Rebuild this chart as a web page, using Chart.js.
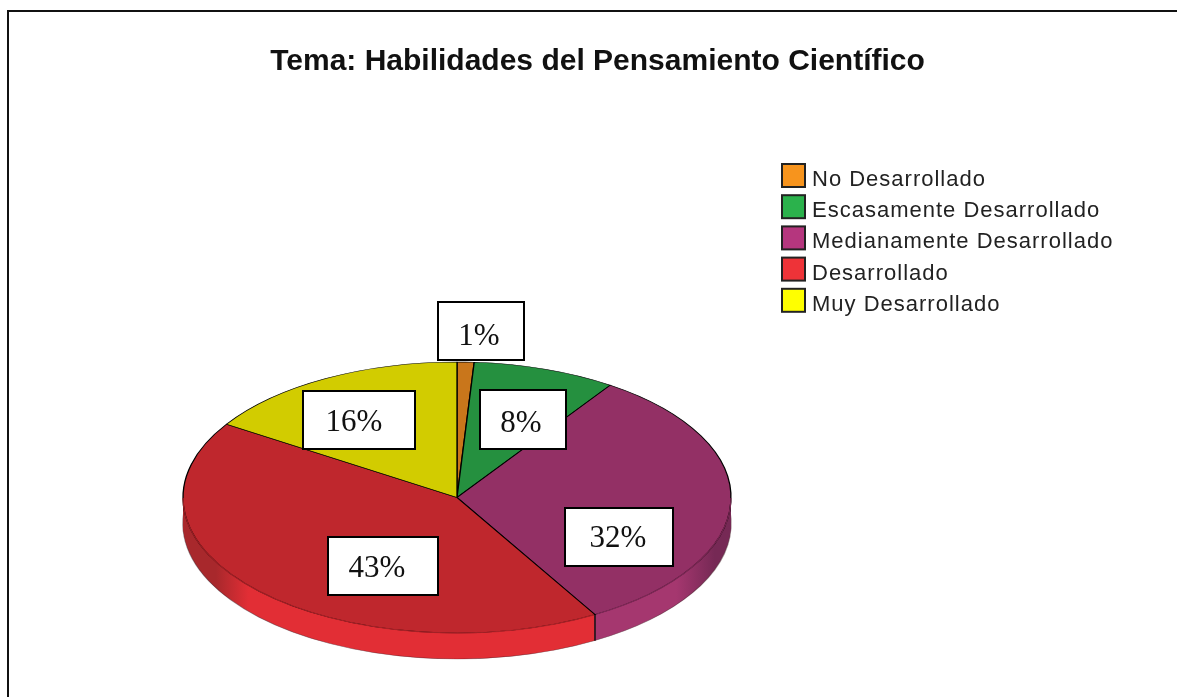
<!DOCTYPE html>
<html><head><meta charset="utf-8">
<style>
html,body{margin:0;padding:0;background:#fff;overflow:hidden}
#wrap{position:relative;width:1177px;height:697px}
#frame{position:absolute;left:7px;top:10px;right:0;bottom:0;border-left:2px solid #111;border-top:2px solid #111;box-sizing:border-box}
canvas{position:absolute;left:0;top:0}
</style>
<script src="https://cdn.jsdelivr.net/npm/chart.js@4"></script>
</head><body>
<div id="wrap"><div id="frame"></div><canvas id="c" width="1177" height="697"></canvas></div>
<script>
const titleText = 'Tema: Habilidades del Pensamiento Científico';
const categories = ['No Desarrollado','Escasamente Desarrollado','Medianamente Desarrollado','Desarrollado','Muy Desarrollado'];
const sliceValues = [1,8.45,32.15,42.5,15.9];
const percentLabels = ['1%','8%','32%','43%','16%'];
const topColors = ['#c9761b','#25903f','#933065','#bf272d','#d2cc00'];
const sideColors = ['#f39a1e','#2cb04c','#a5376f','#e22e35','#ffff00'];
const sideDark = ['#a5611a','#1c7232','#762955','#a8282c','#aaa500'];
const legendColors = ['#f7941d','#2bb24c','#b5367e','#ee3338','#ffff00'];

// projection of the flat pie into the tilted view
const view = {cx:457, cy:497.5, radius:274, squash:135.5/274, depth:26};
const boxes = [[438,302,86,58],[480,390,86,59],[565,508,108,58],[328,537,110,58],[303,391,112,58]];
const labelCentres = [[479,337],[521,424],[618,539],[377,569],[354,423]];

function project(ctx, arc, dy){
  ctx.translate(view.cx - arc.x, view.cy + dy);
  ctx.scale(1, view.squash);
  ctx.translate(0, -arc.y);
}
const tilt = {
  id:'tilt',
  beforeDatasetsDraw(chart){
    const ctx = chart.ctx, meta = chart.getDatasetMeta(0);
    for(let d = view.depth; d >= 1; d--){
      meta.data.forEach((arc,i)=>{
        const saved = arc.options;
        ctx.save();
        project(ctx, arc, d);
        const g = ctx.createLinearGradient(arc.x-view.radius,0,arc.x+view.radius,0);
        g.addColorStop(0, sideDark[i]);
        g.addColorStop(0.06, sideDark[i]);
        g.addColorStop(0.12, sideColors[i]);
        g.addColorStop(0.9, sideColors[i]);
        g.addColorStop(0.97, sideDark[i]);
        g.addColorStop(1, sideDark[i]);
        arc.options = {backgroundColor:g, borderColor:'rgba(60,20,30,.5)', borderWidth:d===view.depth?1.4:0,
          borderAlign:'center', borderDash:[], borderDashOffset:0, borderJoinStyle:'round',
          borderRadius:0, spacing:0, offset:0, circular:true, selfJoin:false};
        arc.draw(ctx);
        arc.options = saved;
        ctx.restore();
      });
    }
    // black edges where a slice boundary faces the viewer
    meta.data.forEach(arc=>{
      const a = arc.endAngle;
      if(Math.sin(a) > 0.05){
        const x = view.cx + view.radius*Math.cos(a);
        const y = view.cy + view.radius*view.squash*Math.sin(a);
        ctx.save();ctx.strokeStyle='#111';ctx.lineWidth=1.5;
        ctx.beginPath();ctx.moveTo(x,y);ctx.lineTo(x,y+view.depth);ctx.stroke();ctx.restore();
      }
    });
    ctx.save();
    project(ctx, meta.data[0], 0);
  },
  afterDatasetsDraw(chart){
    const ctx = chart.ctx, meta = chart.getDatasetMeta(0);
    ctx.restore();
    // soften the front rim
    meta.data.forEach((arc,i)=>{
      const s = Math.max(arc.startAngle,0), e = Math.min(arc.endAngle,Math.PI);
      if(e > s){
        ctx.save();ctx.strokeStyle=topColors[i];ctx.globalAlpha=.8;ctx.lineWidth=1.2;
        ctx.beginPath();ctx.ellipse(view.cx,view.cy,view.radius,view.radius*view.squash,0,s+0.004,e-0.004);ctx.stroke();ctx.restore();
      }
    });
    // value labels
    ctx.save();
    percentLabels.forEach((t,i)=>{
      const [x,y,w,h] = boxes[i];
      ctx.fillStyle='#fff';ctx.fillRect(x,y,w,h);
      ctx.strokeStyle='#000';ctx.lineWidth=2;ctx.strokeRect(x,y,w,h);
      ctx.fillStyle='#111';ctx.font='31px "Liberation Serif"';ctx.textAlign='center';ctx.textBaseline='middle';
      ctx.fillText(t,labelCentres[i][0],labelCentres[i][1]);
    });
    ctx.restore();
    // legend
    ctx.save();
    categories.forEach((t,i)=>{
      const y = 163 + i*31.2;
      ctx.fillStyle=legendColors[i];ctx.fillRect(782,y+1,23,23);
      ctx.strokeStyle='#222';ctx.lineWidth=2;ctx.strokeRect(782,y+1,23,23);
      ctx.fillStyle='#222';ctx.font='22px "Liberation Sans"';ctx.textAlign='left';ctx.textBaseline='middle';
      if('letterSpacing' in ctx) ctx.letterSpacing='1px';
      ctx.fillText(t,812,y+17);
    });
    ctx.restore();
  }
};
Chart.defaults.animation=false;
new Chart(document.getElementById('c'),{
  type:'pie',
  data:{labels:categories,datasets:[{data:sliceValues,backgroundColor:topColors,borderColor:'#000',borderWidth:1.3,borderJoinStyle:'round',clip:false}]},
  plugins:[tilt],
  options:{responsive:false,animation:false,radius:view.radius,
    layout:{padding:{left:18,top:0,right:0,bottom:0}},
    plugins:{legend:{display:false},tooltip:{enabled:false},
      title:{display:true,text:titleText,color:'#111',font:{family:'"Liberation Sans"',size:30,weight:'bold'},padding:{top:44,bottom:12}}}
  }
});
</script>
</body></html>
